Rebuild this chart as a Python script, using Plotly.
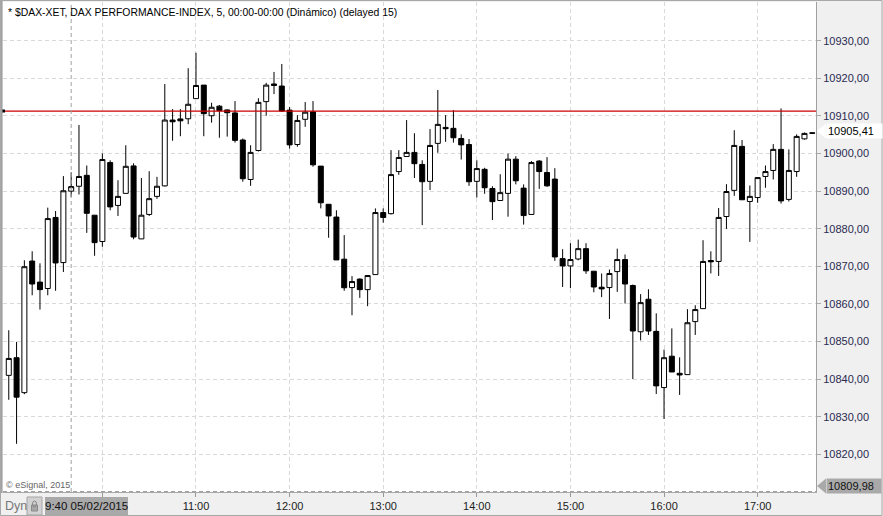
import plotly.graph_objects as go
import pandas as pd

# ---------------- data ----------------
times = pd.date_range("2015-02-05 09:00", periods=104, freq="5min")

opens = [10841.0, 10845.7, 10836.4, 10871.4, 10865.8, 10864.1, 10883.0, 10871.0, 10890.0, 10891.3,
         10894.2, 10883.6, 10876.6, 10897.6, 10886.2, 10889.4, 10896.7, 10877.3, 10883.8, 10888.6,
         10891.4, 10908.9, 10909.2, 10909.25, 10914.6, 10918.2, 10910.05, 10912.6, 10911.6, 10910.8,
         10903.6, 10893.1, 10900.8, 10913.8, 10918.5, 10917.95, 10911.55, 10902.4, 10909.1, 10911.1,
         10896.65, 10886.5, 10883.1, 10871.9, 10864.35, 10866.6, 10863.8, 10867.8, 10884.3, 10884.0,
         10895.2, 10899.2, 10900.3, 10897.1, 10892.6, 10902.7, 10906.95, 10906.7, 10904.0, 10902.4,
         10892.6, 10895.8, 10890.7, 10887.5, 10889.4, 10898.5, 10890.8, 10883.8, 10898.0, 10894.95,
         10893.2, 10872.05, 10870.1, 10871.95, 10874.7, 10868.7, 10864.45, 10864.35, 10868.6, 10871.8,
         10864.9, 10852.6, 10861.25, 10852.7, 10837.75, 10846.1, 10841.55, 10841.2, 10855.3, 10858.75,
         10871.55, 10871.3, 10883.25, 10890.2, 10901.9, 10887.25, 10888.3, 10893.9, 10895.5, 10901.1,
         10887.8, 10895.2, 10903.9, 10905.5]
highs = [10853.0, 10849.9, 10871.6, 10874.0, 10870.8, 10885.6, 10884.7, 10894.0, 10895.0, 10907.6,
         10896.8, 10883.6, 10900.0, 10898.2, 10892.9, 10902.2, 10897.4, 10893.5, 10895.3, 10893.8,
         10918.5, 10911.8, 10911.8, 10922.7, 10926.8, 10918.2, 10913.5, 10912.9, 10911.7, 10913.95,
         10904.0, 10902.2, 10914.7, 10918.8, 10921.7, 10923.8, 10912.4, 10910.2, 10913.7, 10913.95,
         10896.65, 10886.5, 10884.9, 10878.3, 10867.4, 10866.8, 10867.55, 10885.4, 10885.4, 10900.9,
         10900.9, 10908.9, 10905.4, 10898.2, 10906.5, 10916.9, 10910.2, 10911.55, 10905.1, 10903.85,
         10898.2, 10896.2, 10891.3, 10894.5, 10900.0, 10899.3, 10891.8, 10898.0, 10898.25, 10899.05,
         10896.1, 10874.55, 10876.15, 10877.1, 10876.15, 10868.7, 10868.1, 10869.15, 10874.7, 10873.15,
         10865.15, 10862.6, 10863.9, 10857.5, 10847.85, 10853.5, 10845.8, 10858.6, 10859.65, 10876.95,
         10874.0, 10885.5, 10891.85, 10906.2, 10903.6, 10891.5, 10893.6, 10896.8, 10902.5, 10912.0,
         10901.1, 10905.1, 10905.6, 10905.55]
lows = [10834.5, 10822.8, 10836.0, 10862.3, 10858.5, 10862.3, 10863.5, 10868.5, 10888.5, 10889.1,
        10878.9, 10872.8, 10875.2, 10884.9, 10883.4, 10889.4, 10877.2, 10877.3, 10883.4, 10887.95,
        10891.2, 10903.4, 10904.6, 10907.8, 10914.6, 10904.6, 10908.2, 10904.2, 10904.5, 10902.9,
        10892.5, 10891.4, 10900.55, 10910.05, 10915.8, 10911.1, 10901.3, 10901.8, 10907.1, 10896.5,
        10885.4, 10877.6, 10871.7, 10863.5, 10857.0, 10861.6, 10859.4, 10867.8, 10881.6, 10883.8,
        10894.35, 10899.2, 10893.5, 10880.95, 10890.3, 10900.2, 10903.1, 10902.9, 10898.4, 10891.4,
        10888.3, 10889.3, 10882.3, 10887.5, 10883.2, 10891.8, 10881.1, 10883.8, 10890.6, 10891.15,
        10871.45, 10864.5, 10864.2, 10871.6, 10868.0, 10863.1, 10861.8, 10856.0, 10863.2, 10860.1,
        10840.0, 10850.3, 10851.75, 10836.05, 10829.4, 10841.9, 10835.8, 10841.2, 10851.75, 10858.75,
        10868.1, 10867.45, 10879.95, 10888.75, 10887.7, 10876.5, 10886.9, 10890.9, 10893.1, 10886.7,
        10887.25, 10893.8, 10903.7, 10905.35]
closes = [10845.5, 10835.2, 10869.9, 10865.3, 10863.8, 10882.7, 10870.9, 10890.1, 10891.2, 10893.9,
          10884.1, 10876.3, 10898.4, 10885.8, 10888.6, 10896.6, 10877.8, 10883.6, 10888.0, 10891.3,
          10908.9, 10908.45, 10908.7, 10913.1, 10918.1, 10910.6, 10912.3, 10911.4, 10910.85, 10903.5,
          10893.3, 10900.3, 10913.6, 10918.2, 10918.1, 10911.3, 10902.3, 10908.8, 10911.0, 10897.0,
          10886.9, 10883.4, 10871.7, 10864.3, 10865.95, 10863.8, 10867.55, 10884.3, 10883.0, 10894.4,
          10898.95, 10900.3, 10897.3, 10892.5, 10902.15, 10907.75, 10906.6, 10904.2, 10902.3, 10892.5,
          10896.0, 10890.9, 10887.2, 10889.6, 10898.5, 10892.75, 10883.5, 10897.6, 10895.2, 10891.4,
          10872.5, 10870.1, 10871.8, 10874.7, 10868.8, 10864.5, 10864.0, 10868.1, 10871.8, 10865.3,
          10852.8, 10860.35, 10852.8, 10838.2, 10845.7, 10841.9, 10841.1, 10855.0, 10858.5, 10871.3,
          10871.2, 10883.0, 10889.9, 10902.15, 10887.7, 10888.6, 10893.6, 10895.2, 10901.1, 10887.4,
          10895.5, 10904.55, 10905.35, 10905.41]

y_ticks = [10820, 10830, 10840, 10850, 10860, 10870, 10880, 10890, 10900, 10910, 10920, 10930]
x_tick_times = ["2015-02-05 10:00", "2015-02-05 11:00", "2015-02-05 12:00", "2015-02-05 13:00",
                "2015-02-05 14:00", "2015-02-05 15:00", "2015-02-05 16:00", "2015-02-05 17:00"]
x_tick_labels = ["", "11:00", "12:00", "13:00", "14:00", "15:00", "16:00", "17:00"]

ref_line = 10911.3
last_price = 10905.41
bottom_price = 10809.98
top_price = 10940.3
cursor_time = "2015-02-05 09:40"
cursor_label = "9:40 05/02/2015"
title_text = "* $DAX-XET, DAX PERFORMANCE-INDEX, 5, 00:00-00:00 (Dinámico) (delayed 15)"
copyright_text = "© eSignal, 2015"

# ---------------- layout helpers ----------------
W, H = 883, 516
ML, MR, MT, MB = 3, 67, 2, 24
PW, PH = W - ML - MR, H - MT - MB


def px(x):
    return (x - ML) / PW


def py(y):
    return (H - MB - y) / PH


FONT = "Arial, Liberation Sans, sans-serif"
GRID = "#d9d9d9"

fig = go.Figure(go.Candlestick(
    x=times, open=opens, high=highs, low=lows, close=closes,
    increasing=dict(line=dict(color="black", width=1), fillcolor="white"),
    decreasing=dict(line=dict(color="black", width=1), fillcolor="black"),
    whiskerwidth=0,
))

x_start = times[0] - pd.Timedelta(minutes=3.7)
x_end = times[-1] + pd.Timedelta(minutes=2.4)

fig.update_layout(
    width=W, height=H,
    margin=dict(l=ML, r=MR, t=MT, b=MB, pad=0),
    paper_bgcolor="#f0f0f0", plot_bgcolor="white",
    showlegend=False, separators=",.",
    font=dict(family=FONT, size=11, color="#222"),
    boxgap=0.2, boxgroupgap=0.2,
    xaxis=dict(
        type="date", range=[x_start, x_end], rangeslider=dict(visible=False),
        tickvals=x_tick_times, ticktext=x_tick_labels,
        showgrid=True, gridcolor=GRID, griddash="4px,3px", gridwidth=1,
        ticks="outside", ticklen=4, tickcolor="#999",
        tickfont=dict(size=11, color="#222", family=FONT),
        showline=True, linecolor="#a8a8a8", linewidth=1, zeroline=False,
    ),
    yaxis=dict(
        side="right", range=[bottom_price, top_price],
        tickvals=y_ticks, tickformat=".2f",
        showgrid=True, gridcolor=GRID, griddash="4px,3px", gridwidth=1,
        ticks="outside", ticklen=4, tickcolor="#aaa",
        tickfont=dict(size=11, color="#2a2a50", family=FONT),
        showline=True, linecolor="#a0a0a0", linewidth=1, zeroline=False,
    ),
)

shapes = [
    # reference horizontal line
    dict(type="line", xref="paper", yref="y", x0=0, x1=1, y0=ref_line, y1=ref_line,
         line=dict(color="#cc0000", width=1.3)),
    # small black marker at the line's start
    dict(type="rect", xref="paper", yref="paper", x0=px(2), x1=px(5), y0=py(112.5), y1=py(109.5),
         fillcolor="black", line=dict(width=0)),
    # cursor vertical line
    dict(type="line", xref="x", yref="paper", x0=cursor_time, x1=cursor_time, y0=0, y1=1,
         line=dict(color="#a0a0a0", width=1, dash="4px,3px")),
    # bottom dashed border
    dict(type="line", xref="paper", yref="paper", x0=0, x1=1, y0=py(491.5), y1=py(491.5),
         line=dict(color="#a0a0a0", width=1, dash="4px,3px")),
    # left thick border
    dict(type="rect", xref="paper", yref="paper", x0=px(0), x1=px(2.5), y0=py(493), y1=py(0),
         fillcolor="#a0a0a0", line=dict(width=0)),
    # lock button
    dict(type="rect", xref="paper", yref="paper", x0=px(27), x1=px(42), y0=py(515), y1=py(497),
         fillcolor="#d2d2d2", line=dict(color="#a5a5a5", width=1)),
    dict(type="rect", xref="paper", yref="paper", x0=px(31.5), x1=px(37.5), y0=py(511), y1=py(505),
         fillcolor="#a8a8a8", line=dict(color="#8a8a8a", width=1)),
    dict(type="circle", xref="paper", yref="paper", x0=px(32.5), x1=px(36.5), y0=py(507), y1=py(501),
         fillcolor="rgba(0,0,0,0)", line=dict(color="#8a8a8a", width=1)),
    # cursor label background box
    dict(type="rect", xref="paper", yref="paper", x0=px(45), x1=px(128), y0=py(515), y1=py(497),
         fillcolor="#a9a9a9", line=dict(width=0)),
    # last price arrow
    dict(type="path", xref="paper", yref="paper",
         path=f"M {px(817)},{py(131)} L {px(826)},{py(123.5)} L {px(826)},{py(138.5)} Z",
         fillcolor="white", line=dict(width=0)),
    # bottom price arrow
    dict(type="path", xref="paper", yref="paper",
         path=f"M {px(817)},{py(486)} L {px(826)},{py(478.5)} L {px(826)},{py(493.5)} Z",
         fillcolor="#a9a9a9", line=dict(width=0)),
    # outer frame
    dict(type="rect", xref="paper", yref="paper", x0=px(0.5), x1=px(882), y0=py(515.5), y1=py(0.5),
         line=dict(color="#a8a8a8", width=1)),
]
fig.update_layout(shapes=shapes)

annotations = [
    dict(text=title_text, xref="paper", yref="paper", x=px(6), y=py(5), xanchor="left", yanchor="top",
         showarrow=False, font=dict(size=10.4, color="black", family=FONT)),
    dict(text=copyright_text, xref="paper", yref="paper", x=px(4), y=py(485), xanchor="left",
         yanchor="middle", showarrow=False, font=dict(size=9, color="#666", family=FONT)),
    dict(text="Dyn", xref="paper", yref="paper", x=px(3), y=py(506), xanchor="left", yanchor="middle",
         showarrow=False, font=dict(size=12.5, color="#777", family=FONT)),
    dict(text=cursor_label, xref="paper", yref="paper", x=px(86.5), y=py(506), xanchor="center",
         yanchor="middle", showarrow=False,
         font=dict(size=11.5, color="#111", family=FONT)),
    dict(text=f"{last_price:.2f}".replace(".", ","), xref="paper", yref="paper", x=px(826), y=py(131),
         xanchor="left", yanchor="middle", showarrow=False, bgcolor="white", width=53, align="left",
         borderpad=1, font=dict(size=11, color="black", family=FONT)),
    dict(text=f"{bottom_price:.2f}".replace(".", ","), xref="paper", yref="paper", x=px(826), y=py(486),
         xanchor="left", yanchor="middle", showarrow=False, bgcolor="#a9a9a9", width=52, align="left",
         borderpad=1, font=dict(size=11, color="#111", family=FONT)),
]
fig.update_layout(annotations=annotations)

fig.write_html("out.html")
